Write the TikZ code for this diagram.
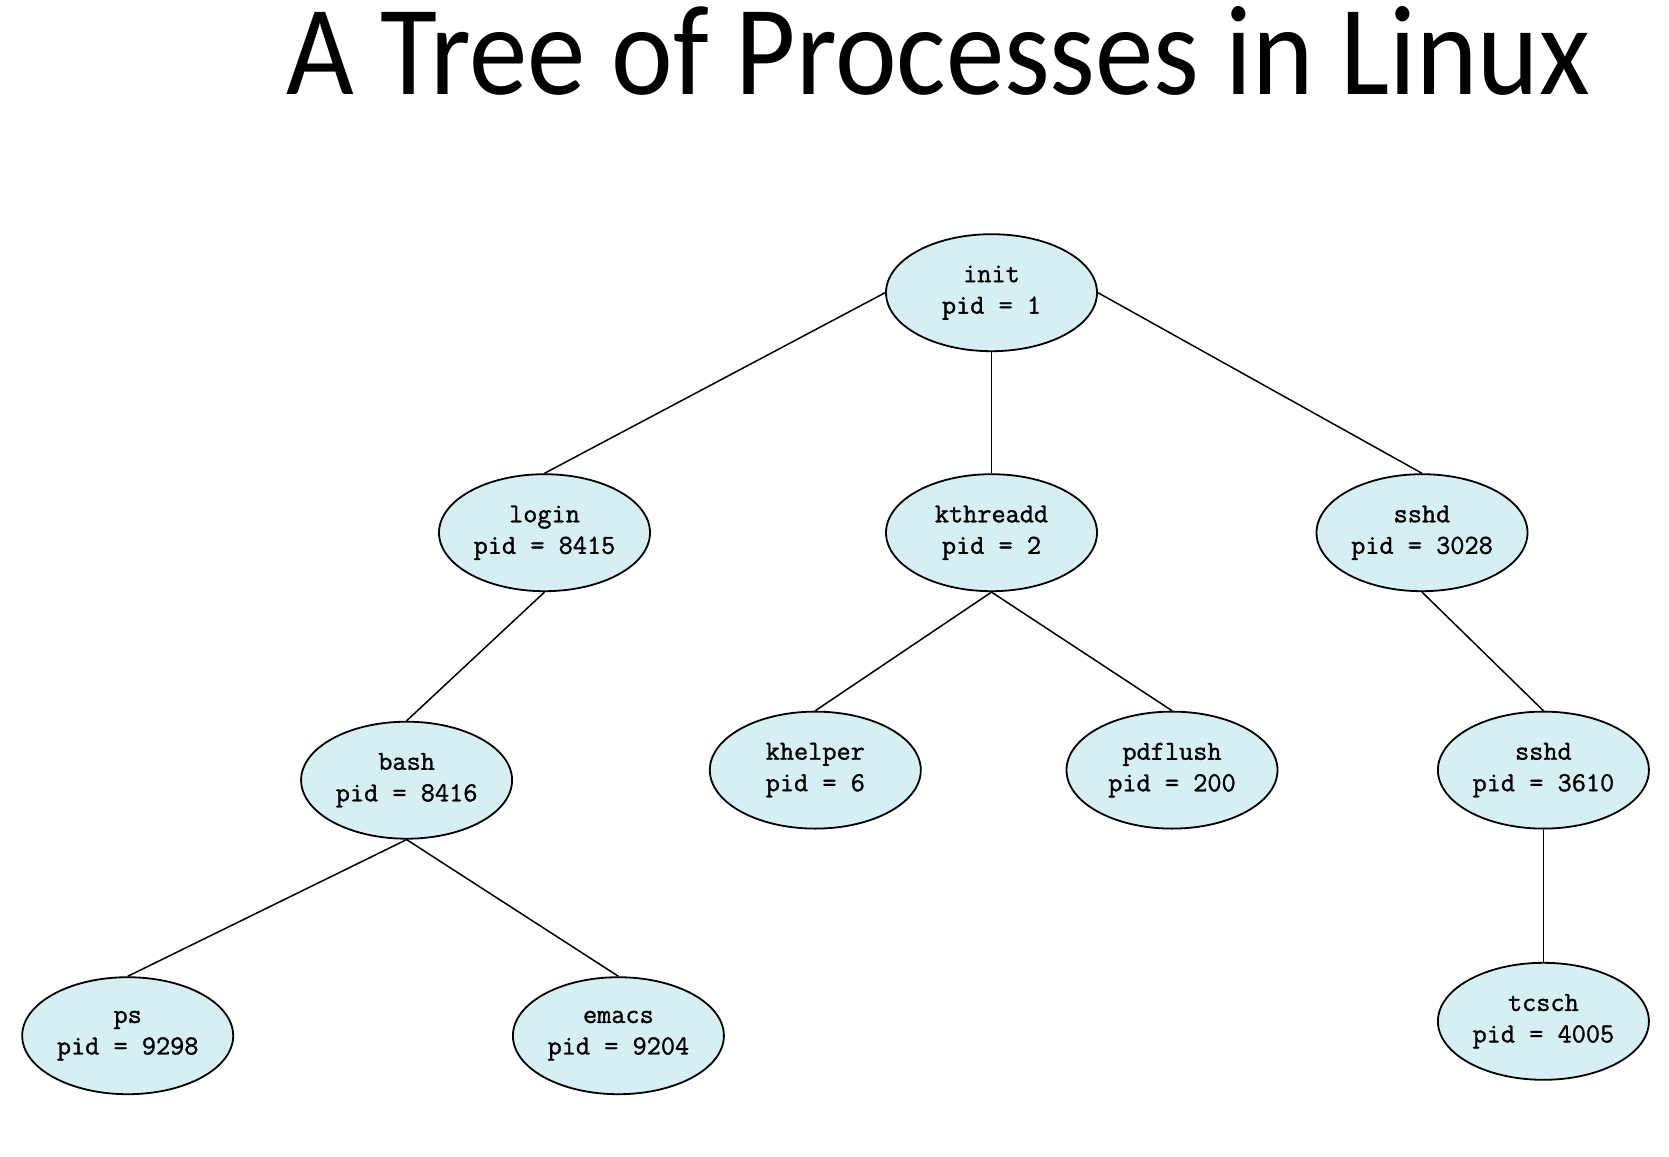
\documentclass[tikz,border=0pt]{standalone}
\usepackage{fontspec}
\newfontfamily\titlefont{Carlito}
\newfontfamily\procfont{Latin Modern Mono}[FakeBold=1.2]
\usetikzlibrary{shapes.geometric}
\definecolor{procfill}{RGB}{214,239,242}
\tikzset{
  proc/.style={ellipse, draw=black, line width=1.8pt, fill=procfill,
    minimum width=211pt, minimum height=117pt, inner sep=0pt, align=center,
    font=\procfont\fontsize{27.5}{31.5}\selectfont},
  link/.style={draw=black, line width=1.5pt}
}
\begin{document}
\begin{tikzpicture}[x=1pt,y=-1pt]
\useasboundingbox (0,0) rectangle (1669,1156);
\node[font=\titlefont\fontsize{128}{128}\selectfont, anchor=base, xscale=0.913] (title) at (938,94) {A Tree of Processes in Linux};
\node[proc] (init) at (991.5,292.7) {init\\pid = 1};
\node[proc] (login) at (544.5,532.7) {login\\pid = 8415};
\node[proc] (kthreadd) at (991.5,532.7) {kthreadd\\pid = 2};
\node[proc] (sshdA) at (1422,532.7) {sshd\\pid = 3028};
\node[proc] (bash) at (406.6,780.2) {bash\\pid = 8416};
\node[proc] (khelper) at (815.3,770.1) {khelper\\pid = 6};
\node[proc] (pdflush) at (1172,770.1) {pdflush\\pid = 200};
\node[proc] (sshdB) at (1543.4,770.1) {sshd\\pid = 3610};
\node[proc] (ps) at (127.7,1035.7) {ps\\pid = 9298};
\node[proc] (emacs) at (618.4,1035.7) {emacs\\pid = 9204};
\node[proc] (tcsch) at (1543.4,1021.3) {tcsch\\pid = 4005};
\draw[link] (init.west) -- (login.north);
\draw[link] (init.south) -- (kthreadd.north);
\draw[link] (init.east) -- (sshdA.north);
\draw[link] (login.south) -- (bash.north);
\draw[link] (bash.south) -- (ps.north);
\draw[link] (bash.south) -- (emacs.north);
\draw[link] (kthreadd.south) -- (khelper.north);
\draw[link] (kthreadd.south) -- (pdflush.north);
\draw[link] (sshdA.south) -- (sshdB.north);
\draw[link] (sshdB.south) -- (tcsch.north);
\end{tikzpicture}
\end{document}
